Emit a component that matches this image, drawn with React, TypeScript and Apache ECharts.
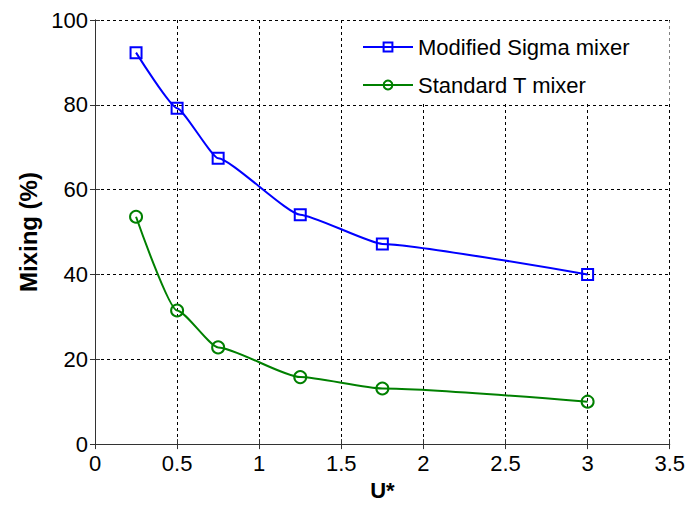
import React, { useEffect, useRef } from "react";
import * as echarts from "echarts";

const uValues = [0.25, 0.5, 0.75, 1.25, 1.75, 3.0];
const sigmaMixing = [92.3, 79.2, 67.4, 54.1, 47.2, 40.0];
const tMixing = [53.6, 31.5, 22.8, 15.8, 13.1, 10.0];
const seriesNames = ["Modified Sigma mixer", "Standard T mixer"];

const FONT = "'Liberation Sans', Arial, Helvetica, sans-serif";

export default function App() {
  const ref = useRef<HTMLDivElement>(null);
  useEffect(() => {
    if (!ref.current) return;
    const chart = echarts.init(ref.current, null, { renderer: "svg" });
    const pairs = (ys: number[]) => uValues.map((x, i) => [x, ys[i]]);
    const tickStyle = { color: "#333", width: 1 };
    chart.setOption({
      animation: false,
      backgroundColor: "#fff",
      textStyle: { fontFamily: FONT },
      grid: { left: 95, top: 20, right: 17, bottom: 60, containLabel: false },
      legend: {
        orient: "vertical",
        left: 343,
        top: 21,
        padding: [14, 40, 6, 19],
        backgroundColor: "#fff",
        itemWidth: 50,
        itemHeight: 11,
        itemGap: 14,
        z: 4,
        textStyle: { fontSize: 22, color: "#000", fontFamily: FONT, lineHeight: 24 },
        data: seriesNames,
      },
      xAxis: [
        {
          type: "value",
          min: 0,
          max: 3.5,
          interval: 0.5,
          position: "bottom",
          name: "U*",
          nameLocation: "middle",
          nameGap: 32,
          nameTextStyle: { fontSize: 22, fontWeight: "bold", color: "#000", fontFamily: FONT },
          axisLine: { show: true, lineStyle: { color: "#333", width: 1 } },
          axisTick: { show: true, inside: true, length: 5, lineStyle: tickStyle },
          axisLabel: { fontSize: 22, color: "#000", margin: 8, fontFamily: FONT },
          splitLine: { show: true, lineStyle: { color: "#000", type: [3, 3], width: 1 } },
        },
        {
          type: "value",
          min: 0,
          max: 3.5,
          interval: 0.5,
          position: "top",
          z: 6,
          axisLine: { show: true, lineStyle: { color: "#333", width: 1 } },
          axisTick: { show: true, inside: true, length: 5, lineStyle: tickStyle },
          axisLabel: { show: false },
          splitLine: { show: false },
        },
      ],
      yAxis: [
        {
          type: "value",
          min: 0,
          max: 100,
          interval: 20,
          position: "left",
          name: "Mixing (%)",
          nameLocation: "middle",
          nameGap: 55,
          nameRotate: 90,
          nameTextStyle: { fontSize: 24, fontWeight: "bold", color: "#000", fontFamily: FONT },
          axisLine: { show: true, lineStyle: { color: "#333", width: 1 } },
          axisTick: { show: true, inside: true, length: 5, lineStyle: tickStyle },
          axisLabel: { fontSize: 22, color: "#000", margin: 7, fontFamily: FONT },
          splitLine: { show: true, lineStyle: { color: "#000", type: [3, 3], width: 1 } },
        },
        {
          type: "value",
          min: 0,
          max: 100,
          interval: 20,
          position: "right",
          z: 6,
          axisLine: { show: true, lineStyle: { color: "#333", width: 1 } },
          axisTick: { show: true, inside: true, length: 5, lineStyle: tickStyle },
          axisLabel: { show: false },
          splitLine: { show: false },
        },
      ],
      series: [
        {
          name: seriesNames[0],
          type: "line",
          xAxisIndex: 0,
          yAxisIndex: 0,
          data: pairs(sigmaMixing),
          smooth: 0.15,
          smoothMonotone: "x",
          symbol: "rect",
          symbolSize: 11,
          color: "#0000ff",
          lineStyle: { color: "#0000ff", width: 2 },
          itemStyle: { color: "rgba(0,0,0,0)", borderColor: "#0000ff", borderWidth: 2 },
          z: 3,
        },
        {
          name: seriesNames[1],
          type: "line",
          xAxisIndex: 0,
          yAxisIndex: 0,
          data: pairs(tMixing),
          smooth: 0.2,
          smoothMonotone: "x",
          symbol: "circle",
          symbolSize: 12,
          color: "#008000",
          lineStyle: { color: "#008000", width: 2 },
          itemStyle: { color: "rgba(0,0,0,0)", borderColor: "#008000", borderWidth: 2 },
          z: 3,
        },
      ],
    });
    return () => chart.dispose();
  }, []);
  return <div ref={ref} style={{ width: 688, height: 506, position: "absolute", left: 0, top: 0 }} />;
}
